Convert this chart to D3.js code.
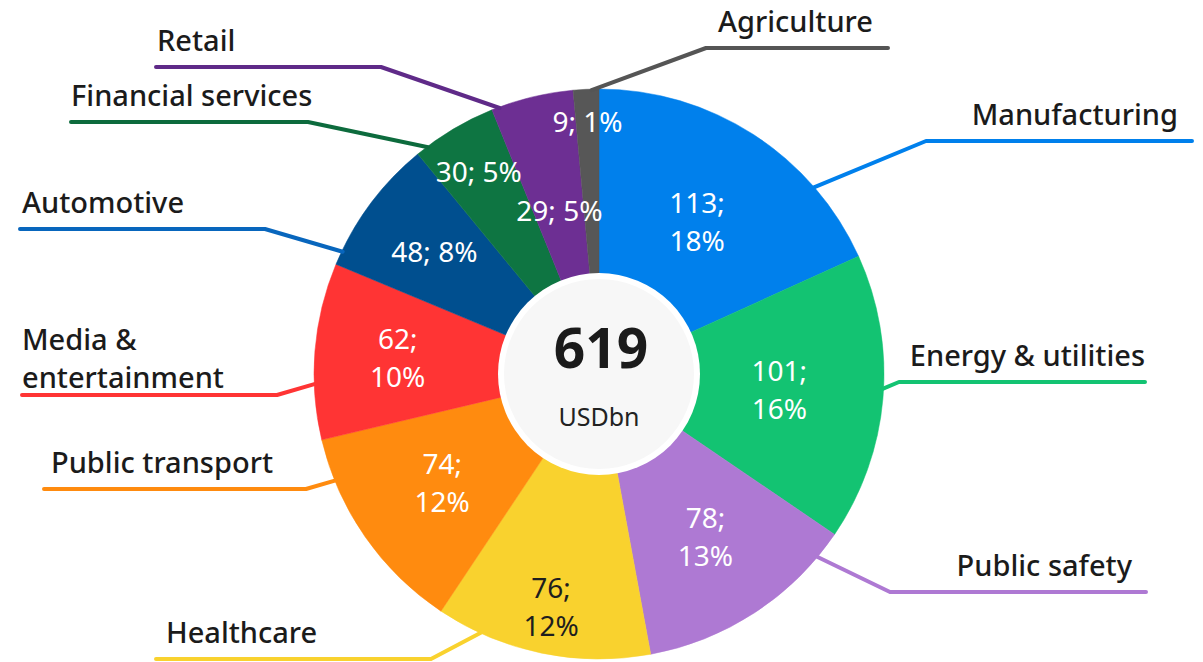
<!DOCTYPE html>
<html>
<head>
<meta charset="utf-8">
<script src="https://cdn.jsdelivr.net/npm/d3@7"></script>
<style>
    body { margin: 0; background: #fff; }
    svg { display: block; }
</style>
</head>
<body>
<div id="chart"></div>
<script>
const categories = ['Manufacturing', 'Energy & utilities', 'Public safety', 'Healthcare', 'Public transport',
    'Media & entertainment', 'Automotive', 'Financial services', 'Retail', 'Agriculture'];
const values = [113, 101, 78, 76, 74, 62, 48, 30, 29, 9];
const total = 619;
const totalUnit = 'USDbn';
const sliceColours = ['#0080ec', '#13c372', '#ae79d3', '#f9d22e', '#ff8b0f',
    '#ff3434', '#004f8f', '#0e7542', '#6d2f93', '#575757'];
const lineColours = ['#0080ec', '#13c372', '#ae79d3', '#f9d22e', '#ff8b0f',
    '#ff3434', '#0866bd', '#0d6b3d', '#5f2a88', '#555555'];

// label layout: value label radius, split in two lines, leader angle (deg), elbow, line end, text x
const layout = [
    { r: 181, split: true, a: 49, ex: 926, ey: 141, end: 1192, tx: 1178, anchor: 'end' },
    { r: 181, split: true, a: 93, ex: 899, ey: 382, end: 1145, tx: 1145, anchor: 'end' },
    { r: 195, split: true, a: 130, ex: 890, ey: 592, end: 1146, tx: 1132, anchor: 'end' },
    { r: 238, split: true, a: 204.5, ex: 431, ey: 659, end: 156, tx: 166, anchor: 'start' },
    { r: 191, split: true, a: 248, ex: 306, ey: 489, end: 44, tx: 51, anchor: 'start' },
    { r: 202, split: true, a: 268, ex: 277, ey: 395, end: 22, tx: 22, anchor: 'start' },
    { r: 205, split: false, a: 295.5, ex: 265, ey: 229, end: 20, tx: 22, anchor: 'start' },
    { r: 235, split: false, a: 323, ex: 308, ey: 122, end: 71, tx: 71, anchor: 'start' },
    { r: 168, split: false, a: 339.5, ex: 381, ey: 67, end: 156, tx: 157, anchor: 'start' },
    { r: 252, split: false, a: 358.5, ex: 706, ey: 48, end: 888, tx: 718, anchor: 'start' }
];

const fullWidth = 1203;
const fullHeight = 662;
const cx = 599;
const cy = 374;
const radius = 285;

const svg = d3.select('#chart')
    .append('svg')
    .attr('width', fullWidth)
    .attr('height', fullHeight);

const rows = categories.map((c, i) => ({ name: c, value: values[i], i: i }));

const pie = d3.pie()
    .sort(null)
    .value(d => d.value);
const arcs = pie(rows);

const arc = d3.arc().innerRadius(0).outerRadius(radius);

const pieG = svg.append('g')
    .attr('transform', `translate(${cx}, ${cy})`);

// Slices
pieG.selectAll('path.slice')
    .data(arcs)
    .enter()
    .append('path')
    .attr('class', 'slice')
    .attr('d', arc)
    .attr('fill', d => sliceColours[d.data.i])
    .attr('stroke', d => sliceColours[d.data.i])
    .attr('stroke-width', 0.5);

// Leader lines
const edgeArc = d3.arc().innerRadius(radius - 1).outerRadius(radius - 1);
pieG.selectAll('path.leader')
    .data(arcs)
    .enter()
    .append('path')
    .attr('class', 'leader')
    .attr('fill', 'none')
    .attr('stroke', d => lineColours[d.data.i])
    .attr('stroke-width', 4)
    .attr('stroke-linecap', 'round')
    .attr('stroke-linejoin', 'round')
    .attr('d', d => {
        const l = layout[d.data.i];
        const ang = l.a * Math.PI / 180;
        const p = edgeArc.centroid({ startAngle: ang, endAngle: ang });
        return d3.line()([p, [l.ex - cx, l.ey - cy], [l.end - cx, l.ey - cy]]);
    });

// Value labels
const valueLabels = pieG.selectAll('text.value')
    .data(arcs)
    .enter()
    .append('text')
    .attr('class', 'value')
    .attr('text-anchor', 'middle')
    .style('font-family', '"Noto Sans", sans-serif')
    .style('font-size', '28px')
    .attr('fill', d => d.data.name === 'Healthcare' ? '#1e1e1e' : '#ffffff')
    .attr('transform', d => {
        const r = layout[d.data.i].r;
        const p = d3.arc().innerRadius(r).outerRadius(r).centroid(d);
        return `translate(${p[0]}, ${p[1]})`;
    });

valueLabels.each(function (d) {
    const l = layout[d.data.i];
    const pct = Math.round(d.data.value / total * 100);
    const t = d3.select(this);
    if (l.split) {
        t.append('tspan').attr('x', 0).attr('y', -9).text(`${d.data.value};`);
        t.append('tspan').attr('x', 0).attr('y', 29).text(`${pct}%`);
    } else {
        t.append('tspan').attr('x', 0).attr('y', 10).text(`${d.data.value}; ${pct}%`);
    }
});

// Category labels
const catLabels = svg.selectAll('text.cat')
    .data(arcs)
    .enter()
    .append('text')
    .attr('class', 'cat')
    .attr('text-anchor', d => layout[d.data.i].anchor)
    .style('font-family', '"Noto Sans", sans-serif')
    .style('font-size', '29px')
    .style('font-weight', 500)
    .attr('fill', '#1b1b1b');

catLabels.each(function (d) {
    const l = layout[d.data.i];
    const t = d3.select(this);
    if (d.data.name === 'Media & entertainment') {
        t.append('tspan').attr('x', l.tx).attr('y', l.ey - 45).text('Media &');
        t.append('tspan').attr('x', l.tx).attr('y', l.ey - 7).text('entertainment');
    } else {
        t.append('tspan').attr('x', l.tx).attr('y', l.ey - 16).text(d.data.name);
    }
});

// Centre
pieG.append('circle')
    .attr('r', 101)
    .attr('fill', '#ffffff');
pieG.append('circle')
    .attr('r', 95)
    .attr('fill', '#f7f7f7');

pieG.append('text')
    .attr('text-anchor', 'middle')
    .attr('x', 2)
    .attr('y', -6)
    .style('font-family', '"Noto Sans", sans-serif')
    .style('font-size', '55px')
    .style('font-weight', 700)
    .attr('fill', '#1b1b1b')
    .text(total);

pieG.append('text')
    .attr('text-anchor', 'middle')
    .attr('x', 0)
    .attr('y', 52)
    .style('font-family', '"Noto Sans", sans-serif')
    .style('font-size', '25px')
    .attr('fill', '#222')
    .text(totalUnit);
</script>
</body>
</html>
